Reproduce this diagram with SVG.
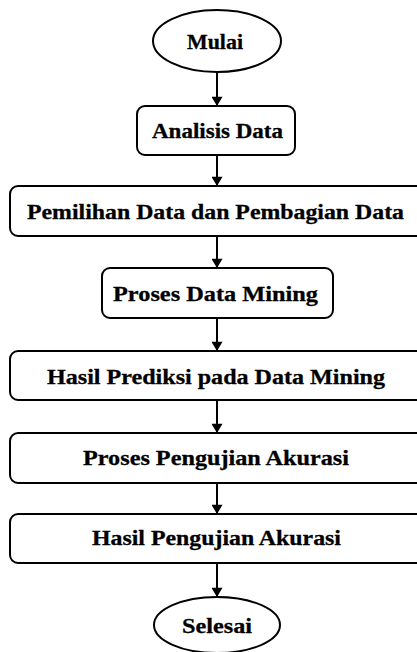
<svg xmlns="http://www.w3.org/2000/svg" width="417" height="652" viewBox="0 0 417 652">
<style>
.n{fill:#fff;stroke:#000;stroke-width:2}
.t{font-family:"Liberation Serif","Times New Roman",serif;font-weight:bold;font-size:22px;fill:#000;stroke:#000;stroke-width:0.3}
.c{stroke:#000;stroke-width:2;fill:none;marker-end:url(#ah)}
</style>
<defs>
<marker id="ah" viewBox="0 0 10 12" refX="10" refY="6" markerWidth="12" markerHeight="11" markerUnits="userSpaceOnUse" orient="auto">
<path d="M0,0 L10,6 L0,12 z" fill="#000"/>
</marker>
</defs>
<rect width="417" height="652" fill="#fff"/>
<g id="connectors">
<line class="c" x1="217" y1="72" x2="217" y2="106"/>
<line class="c" x1="217" y1="155" x2="217" y2="186"/>
<line class="c" x1="217" y1="236" x2="217" y2="268"/>
<line class="c" x1="217" y1="318" x2="217" y2="351"/>
<line class="c" x1="217" y1="400" x2="217" y2="433"/>
<line class="c" x1="217" y1="483" x2="217" y2="514"/>
<line class="c" x1="217" y1="563" x2="217" y2="597"/>
</g>
<g id="mulai">
<ellipse class="n" cx="217" cy="41" rx="64" ry="31"/>
<text class="t" x="187" y="49" textLength="56" lengthAdjust="spacingAndGlyphs">Mulai</text>
</g>
<g id="analisis">
<rect class="n" x="137" y="106" width="158" height="49" rx="8"/>
<text class="t" x="152" y="137.5" textLength="131" lengthAdjust="spacingAndGlyphs">Analisis Data</text>
</g>
<g id="pemilihan">
<rect class="n" x="10" y="186" width="415" height="50" rx="8"/>
<text class="t" x="27" y="219" textLength="377" lengthAdjust="spacingAndGlyphs">Pemilihan Data dan Pembagian Data</text>
</g>
<g id="proses-dm">
<rect class="n" x="102" y="268" width="231" height="50" rx="8"/>
<text class="t" x="113" y="300.5" textLength="205" lengthAdjust="spacingAndGlyphs">Proses Data Mining</text>
</g>
<g id="hasil-prediksi">
<rect class="n" x="10" y="351" width="415" height="49" rx="8"/>
<text class="t" x="47" y="383.5" textLength="338" lengthAdjust="spacingAndGlyphs">Hasil Prediksi pada Data Mining</text>
</g>
<g id="proses-pengujian">
<rect class="n" x="10" y="433" width="415" height="50" rx="8"/>
<text class="t" x="83" y="465" textLength="266" lengthAdjust="spacingAndGlyphs">Proses Pengujian Akurasi</text>
</g>
<g id="hasil-pengujian">
<rect class="n" x="10" y="514" width="415" height="49" rx="8"/>
<text class="t" x="92" y="545" textLength="249" lengthAdjust="spacingAndGlyphs">Hasil Pengujian Akurasi</text>
</g>
<g id="selesai">
<ellipse class="n" cx="217" cy="625" rx="63" ry="28"/>
<text class="t" x="182" y="633" textLength="70" lengthAdjust="spacingAndGlyphs">Selesai</text>
</g>
</svg>
